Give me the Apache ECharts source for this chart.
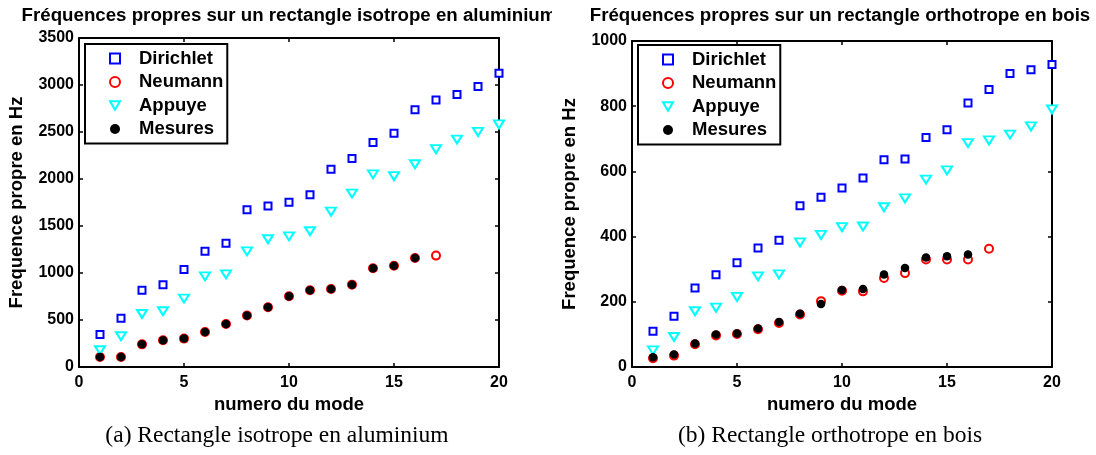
<!DOCTYPE html>
<html><head><meta charset="utf-8">
<script src="https://cdn.jsdelivr.net/npm/echarts@6/dist/echarts.min.js"></script>
<style>html,body{margin:0;padding:0;background:#fff}#c{width:1096px;height:455px}</style>
</head><body><div id="c"></div>
<script>
// ---- data ----
const modes = [1,2,3,4,5,6,7,8,9,10,11,12,13,14,15,16,17,18,19,20];
const seriesNames = ['Dirichlet','Neumann','Appuye','Mesures'];
const xTicks = [0,5,10,15,20];
const alYTicks = [0,500,1000,1500,2000,2500,3000,3500];
const boisYTicks = [0,200,400,600,800,1000];

const alDirichlet = [345,518,816,876,1036,1231,1316,1674,1713,1753,1833,2103,2217,2387,2486,2738,2840,2898,2983,3124];
const alNeumann   = [106,106,241,284,302,372,457,547,635,752,816,830,876,1050,1078,1160,1185];
const alAppuye    = [178,327,564,593,728,965,986,1231,1359,1390,1444,1652,1845,2050,2030,2157,2317,2420,2501,2580];
const alMesures   = [106,106,241,284,302,372,457,547,635,752,816,830,876,1050,1078,1160];

const boisDirichlet = [110,156,242,283,320,365,389,495,521,549,580,636,638,704,728,810,851,900,912,928];
const boisNeumann   = [27,35,70,97,101,116,135,161,202,234,232,273,288,330,330,330,363];
const boisAppuye    = [51,92,171,182,215,278,284,382,405,429,431,490,517,575,603,687,695,713,738,790];
const boisMesures   = [30,38,72,100,103,118,138,163,193,236,239,284,304,336,340,345];

const titles = ['Fréquences propres sur un rectangle isotrope en aluminium','Fréquences propres sur un rectangle orthotrope en bois'];
const captions = ['(a) Rectangle isotrope en aluminium','(b) Rectangle orthotrope en bois'];
const xName = 'numero du mode';
const yName = 'Frequence propre en Hz';

// ---- chart ----
const FONT = '"Liberation Sans", Arial, sans-serif';
const chart = echarts.init(document.getElementById('c'), null, {renderer:'canvas'});
const pairs = arr => arr.map((v,i)=>[modes[i], v]);
const tri = 'path://M0,0 L20,0 L10,17 Z';

const grids = [
  {left:79, right:597, top:38, bottom:88},
  {left:632, right:44, top:41, bottom:88}
];
function xAx(g, pos){
  return {type:'value', gridIndex:g, position:pos, min:xTicks[0], max:xTicks[xTicks.length-1], interval:xTicks[1]-xTicks[0],
    name: pos==='bottom'? xName : '', nameLocation:'middle', nameGap:28,
    nameTextStyle:{fontFamily:FONT, fontWeight:'bold', fontSize:18.5, color:'#000'},
    axisLine:{show:true, onZero:false, lineStyle:{color:'#000', width:2}},
    axisTick:{show:true, inside:true, length:4, lineStyle:{color:'#000', width:1.5}},
    axisLabel:{show:pos==='bottom', margin:8, fontFamily:FONT, fontWeight:'bold', fontSize:16, color:'#000', formatter:v=>String(v)},
    splitLine:{show:false}};
}
function yAx(g, pos, ticks){
  return {type:'value', gridIndex:g, position:pos, min:ticks[0], max:ticks[ticks.length-1], interval:ticks[1]-ticks[0],
    name: pos==='left'? yName : '', nameLocation:'middle', nameGap:53, nameRotate:90,
    nameTextStyle:{fontFamily:FONT, fontWeight:'bold', fontSize:18.5, color:'#000'},
    axisLine:{show:true, onZero:false, lineStyle:{color:'#000', width:2}},
    axisTick:{show:true, inside:true, length:4, lineStyle:{color:'#000', width:1.5}},
    axisLabel:{show:pos==='left', margin:5, fontFamily:FONT, fontWeight:'bold', fontSize:16, color:'#000', formatter:v=>String(v)},
    splitLine:{show:false}};
}
const xAxes = [xAx(0,'bottom'), xAx(0,'top'), xAx(1,'bottom'), xAx(1,'top')];
const yAxes = [yAx(0,'left',alYTicks), yAx(0,'right',alYTicks), yAx(1,'left',boisYTicks), yAx(1,'right',boisYTicks)];

function makeSeries(xi, yi, d, n, a, m){
  return [
    {name:seriesNames[0], type:'scatter', xAxisIndex:xi, yAxisIndex:yi, data:pairs(d), symbol:'rect', symbolSize:7, clip:false,
      itemStyle:{color:'#fff', borderColor:'#0000ff', borderWidth:2, opacity:1}, z:2},
    {name:seriesNames[1], type:'scatter', xAxisIndex:xi, yAxisIndex:yi, data:pairs(n), symbol:'circle', symbolSize:8, clip:false,
      itemStyle:{color:'#fff', borderColor:'#ff0000', borderWidth:2, opacity:1}, z:3},
    {name:seriesNames[2], type:'scatter', xAxisIndex:xi, yAxisIndex:yi, data:pairs(a), symbol:tri, symbolSize:[10,8], clip:false,
      itemStyle:{color:'#fff', borderColor:'#00ffff', borderWidth:2, opacity:1}, z:4},
    {name:seriesNames[3], type:'scatter', xAxisIndex:xi, yAxisIndex:yi, data:pairs(m), symbol:'circle', symbolSize:8.5, clip:false,
      itemStyle:{color:'#000', borderWidth:0, opacity:1}, z:5}
  ];
}
const series = [].concat(makeSeries(0,0,alDirichlet,alNeumann,alAppuye,alMesures),
                         makeSeries(2,2,boisDirichlet,boisNeumann,boisAppuye,boisMesures));

function legendAt(left, top){
  return {show:true, orient:'vertical', left:left, top:top, data:seriesNames, selectedMode:false,
    backgroundColor:'#fff', borderColor:'#000', borderWidth:2, borderRadius:0,
    padding:[5,4,5,24], itemWidth:10, itemHeight:10, itemGap:4.5,
    textStyle:{fontFamily:FONT, fontWeight:'bold', fontSize:18.5, color:'#000', lineHeight:18.5, padding:[0,0,0,14]}};
}

const option = {
  backgroundColor:'#fff',
  animation:false,
  grid: grids,
  xAxis: xAxes,
  yAxis: yAxes,
  legend: [legendAt(85,44), legendAt(638,45)],
  series: series,
  graphic: [
    {type:'text', x:289, y:16, z:10, style:{text:titles[0], font:'bold 18.7px '+FONT, fill:'#000', align:'center', verticalAlign:'middle'}},
    {type:'rect', z:20, shape:{x:552, y:0, width:32, height:30}, style:{fill:'#fff'}},
    {type:'text', x:840, y:16, z:10, style:{text:titles[1], font:'bold 18.7px '+FONT, fill:'#000', align:'center', verticalAlign:'middle'}},
    {type:'text', x:277, y:436, style:{text:captions[0], font:'23.5px "Liberation Serif", serif', fill:'#000', align:'center', verticalAlign:'middle'}},
    {type:'text', x:830, y:436, style:{text:captions[1], font:'23.5px "Liberation Serif", serif', fill:'#000', align:'center', verticalAlign:'middle'}}
  ]
};
chart.setOption(option);
</script>
</body></html>
